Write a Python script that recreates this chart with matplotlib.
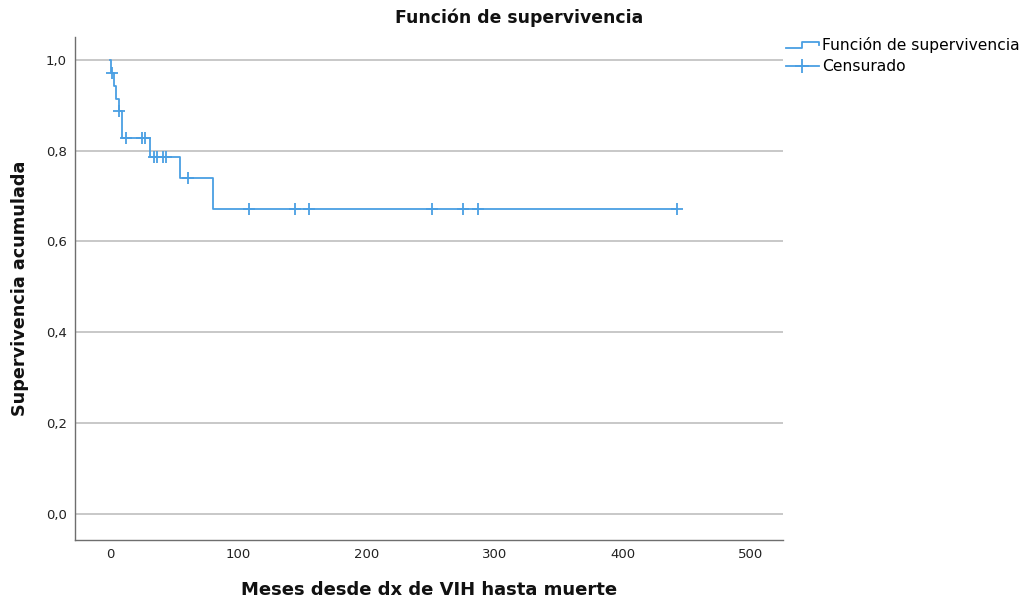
import numpy as np
import matplotlib
matplotlib.use("Agg")
import matplotlib.pyplot as plt
from matplotlib.lines import Line2D
from matplotlib.legend_handler import HandlerBase

# Kaplan-Meier estimate: step times (months) and survival after each step
step_months = [0, 0.5, 3.0, 5.0, 7.0, 9.7, 31.2, 54.6, 80.0]
step_surv = [1.0, 0.971, 0.943, 0.914, 0.886, 0.828, 0.786, 0.740, 0.672]

# censored observations (months)
censored_months = [1.8, 7.3, 12.3, 25.0, 27.5, 34.5, 36.5, 41.5, 43.5, 60.5,
                   108.2, 144.0, 155.5, 251.4, 275.1, 286.8, 442.5]

x_ticks = [0, 100, 200, 300, 400, 500]
y_ticks = [0.0, 0.2, 0.4, 0.6, 0.8, 1.0]
y_tick_labels = ["0,0", "0,2", "0,4", "0,6", "0,8", "1,0"]

blue = "#4a9fe3"


class StepHandler(HandlerBase):
    # little step-shaped line for the survival function entry
    def create_artists(self, legend, orig_handle, xdescent, ydescent,
                       width, height, fontsize, trans):
        xs = np.array([0, 0.5, 0.5, 1.0, 1.0]) * width - xdescent
        ys = np.array([0.2, 0.2, 0.75, 0.75, 0.5]) * height - ydescent
        ln = Line2D(xs, ys, color=orig_handle.get_color(),
                    linewidth=orig_handle.get_linewidth(), transform=trans)
        return [ln]


fig = plt.figure(figsize=(10.21, 6.0), dpi=100)
ax = fig.add_axes([75 / 1021, 60 / 600, 708 / 1021, 503 / 600])

# survival curve runs until the last follow-up
xs = list(step_months) + [censored_months[-1]]
ys = list(step_surv) + [step_surv[-1]]
curve, = ax.step(xs, ys, where="post", color=blue, linewidth=1.3)

# censor marks sit on the curve
idx = np.searchsorted(step_months, censored_months, side="right") - 1
cens_y = np.array(step_surv)[idx]
ax.plot(censored_months, cens_y, linestyle="none", marker="+",
        markersize=9, markeredgewidth=1.3, color=blue)

ax.set_xlim(-27.3, 525)
ax.set_ylim(-0.0573, 1.05)
ax.set_xticks(x_ticks)
ax.set_yticks(y_ticks)
ax.set_yticklabels(y_tick_labels)
ax.tick_params(length=0, labelsize=9.5, labelcolor="#222222", pad=6)
ax.yaxis.grid(True, color="#c8c8c8", linewidth=1.4)
ax.set_axisbelow(True)
for side in ("top", "right"):
    ax.spines[side].set_visible(False)
for side in ("left", "bottom"):
    ax.spines[side].set_color("#6e6e6e")
    ax.spines[side].set_linewidth(1.0)

ax.set_xlabel("Meses desde dx de VIH hasta muerte", fontsize=13,
              fontweight="bold", labelpad=14, color="#111111")
ax.set_ylabel("Supervivencia acumulada", fontsize=12.7, fontweight="bold",
              labelpad=12, color="#111111")
fig.text(519 / 1021, 1 - 18 / 600, "Función de supervivencia",
         ha="center", va="center", fontsize=12.4, fontweight="bold",
         color="#111111")

surv_handle = Line2D([], [], color=blue, linewidth=1.3)
cens_handle = Line2D([], [], color=blue, linewidth=1.3, marker="+",
                     markersize=10, markeredgewidth=1.3)
fig.legend([surv_handle, cens_handle],
           ["Función de supervivencia", "Censurado"],
           handler_map={surv_handle: StepHandler()},
           loc="upper left", bbox_to_anchor=(786 / 1021, 1 - 37 / 600),
           frameon=False, fontsize=11.2, borderpad=0, borderaxespad=0,
           handlelength=2.1, handletextpad=0.2, labelspacing=0.4,
           numpoints=1)

fig.savefig("out.png", dpi=100)
